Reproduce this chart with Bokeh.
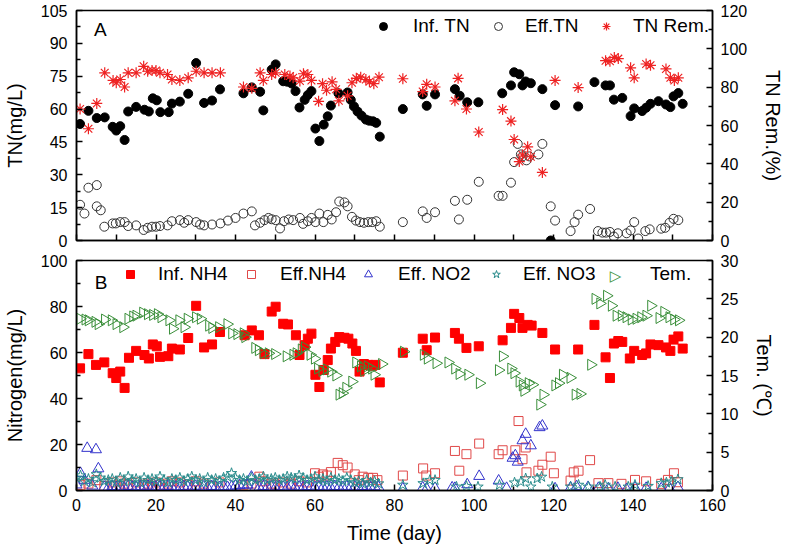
import numpy as np
from bokeh.plotting import figure
from bokeh.models import Range1d, LinearAxis, FixedTicker, Legend, LegendItem, Label
from bokeh.layouts import column
from bokeh.embed import file_html
from bokeh.resources import INLINE

FONT = "Liberation Sans"

# ---------------- Panel A data: (day, value) ----------------
INF_TN = [(0.9,53.2),(3.0,59.2),(5.1,55.9),(7.1,56.2),(9.1,51.9),(10.0,50.2),(11.0,52.2),(12.1,45.9),
          (13.0,58.9),(15.0,61.0),(17.1,59.7),(18.2,58.9),(19.2,64.9),(20.2,64.0),(21.1,58.6),(23.2,58.6),
          (24.0,62.5),(26.0,63.4),(28.1,67.0),(30.1,81.0),(32.1,62.8),(34.1,63.9),(36.1,69.0),(42.0,67.2),
          (44.1,69.9),(46.2,67.9),(47.0,59.4),(49.1,78.0),(50.1,80.4),(52.0,72.7),(53.0,72.5),(54.1,71.7),
          (55.1,68.2),(56.1,60.7),(57.4,64.2),(58.2,66.4),(59.1,68.2),(60.1,51.1),(61.1,45.4),(62.2,52.9),
          (63.2,56.7),(64.0,61.6),(65.9,67.2),(68.2,67.6),(69.0,64.2),(69.8,61.2),(70.7,58.9),(71.7,57.0),
          (72.8,55.2),(73.6,54.7),(74.6,54.4),(75.4,53.7),(76.3,47.4),(82.1,60.0),(87.1,66.7),(88.1,61.5),
          (90.2,66.7),(95.2,69.1),(96.4,66.1),(98.3,63.1),(101.1,63.1),(107.1,67.2),(109.3,70.8),(110.1,76.8),
          (111.4,75.9),(112.2,70.8),(113.0,72.6),(114.3,71.8),(117.2,69.1),(119.3,0.0),(120.4,61.8),(126.2,61.2),
          (130.3,72.3),(133.1,70.8),(134.2,70.8),(135.2,64.3),(137.3,65.1),(139.4,56.8),(140.3,60.3),(142.3,59.1),
          (143.3,60.6),(144.4,62.4),(146.4,63.6),(148.3,62.1),(149.4,60.9),(150.2,65.8),(151.4,67.3),(152.5,62.4)]

EFF_TN = [(0.9,16.3),(2.0,12.3),(3.0,24.1),(5.1,25.3),(5.1,15.6),(6.1,13.8),(7.0,6.3),(9.1,7.8),(9.9,7.8),
          (11.0,8.4),(12.1,8.4),(13.0,6.6),(15.0,6.9),(16.9,4.8),(17.9,5.8),(19.0,6.3),(20.0,6.3),(21.0,6.6),
          (22.9,6.9),(24.0,8.8),(26.0,9.3),(27.1,8.1),(28.1,9.3),(30.1,8.4),(31.1,7.3),(32.1,6.9),(34.1,7.3),
          (36.2,7.8),(38.1,9.1),(40.0,10.3),(42.0,12.3),(44.1,13.3),(44.9,6.9),(46.2,8.1),(47.3,9.3),(48.3,10.3),
          (49.1,9.7),(50.1,9.3),(51.2,5.5),(52.2,8.8),(53.4,9.6),(54.5,9.3),(56.2,10.3),(57.0,7.6),(58.2,8.8),
          (59.1,10.3),(60.1,8.4),(61.1,12.3),(62.1,8.4),(63.2,11.7),(64.2,9.6),(65.3,12.9),(66.1,17.8),(67.4,17.4),
          (68.2,15.6),(69.3,10.8),(70.3,9.1),(71.3,8.4),(72.3,8.1),(73.4,8.4),(74.4,8.4),(75.4,8.8),(76.3,6.3),
          (82.1,8.4),(87.1,13.3),(88.1,10.3),(90.2,12.9),(95.2,18.1),(96.2,9.6),(98.3,18.6),(101.2,26.8),
          (106.2,20.4),(107.2,20.4),(109.3,26.4),(110.1,35.8),(111.0,44.1),(111.8,39.3),(112.2,38.4),(113.2,36.6),
          (113.9,38.4),(116.2,39.3),(117.2,44.1),(119.3,15.6),(120.4,9.1),(124.3,4.3),(125.3,8.4),(126.2,11.8),
          (129.2,14.4),(131.2,4.3),(132.3,3.6),(133.2,3.6),(134.2,3.9),(135.2,1.8),(136.2,3.3),(138.4,3.3),
          (139.4,4.6),(140.3,8.4),(141.3,0.9),(143.1,4.3),(144.2,5.1),(147.1,5.4),(148.1,5.8),(149.2,8.1),
          (150.2,9.9),(151.4,9.3)]

TN_REM = [(0.9,68.6),(3.0,58.3),(5.1,71.5),(7.1,87.5),(9.2,83.5),(10.0,82.3),(11.0,84.0),(12.1,80.1),
          (13.0,87.5),(15.0,87.5),(16.9,90.9),(17.9,88.3),(19.0,88.7),(20.0,88.7),(21.0,87.5),(22.9,86.6),
          (24.0,84.0),(26.0,83.5),(28.1,84.9),(30.1,88.3),(32.1,87.5),(34.1,87.5),(36.2,87.5),(42.0,80.1),
          (44.1,79.4),(46.2,87.5),(47.0,83.5),(49.1,86.6),(50.1,87.5),(52.4,86.6),(53.7,85.8),(54.5,84.9),
          (56.2,83.2),(57.1,87.0),(58.2,86.6),(59.1,83.5),(60.9,72.6),(61.9,81.8),(62.9,78.4),(64.3,82.8),
          (65.3,78.9),(66.0,72.9),(68.2,75.5),(69.3,82.3),(70.4,84.6),(71.5,85.2),(72.8,84.0),(73.7,82.8),
          (74.8,81.8),(76.1,85.2),(82.1,84.4),(87.1,77.7),(88.1,81.5),(90.2,80.1),(95.2,72.9),(96.0,84.6),
          (98.1,68.6),(101.2,56.6),(107.2,68.3),(109.3,62.3),(110.1,52.7),(111.4,41.2),(112.2,44.6),(113.5,48.9),
          (114.3,43.7),(117.2,35.5),(120.4,83.5),(126.2,79.8),(133.1,93.8),(134.2,93.5),(135.3,95.5),(136.3,94.9),
          (139.4,90.1),(140.3,84.9),(143.3,92.1),(144.4,91.4),(148.3,89.5),(149.4,84.9),(150.4,83.5),(151.4,84.9)]

# ---------------- Panel B data: (day, value) ----------------
INF_NH4 = [(0.9,53.1),(3.0,59.3),(4.9,54.6),(7.0,55.7),(9.1,51.0),(10.0,48.9),(11.0,51.7),(12.1,44.6),
           (13.2,57.7),(15.0,60.7),(17.1,58.9),(18.2,57.4),(19.2,63.5),(20.2,62.7),(21.0,58.1),(23.1,58.4),
           (24.0,61.7),(26.0,61.3),(28.1,66.3),(30.1,80.3),(32.1,62.2),(34.1,63.5),(36.1,68.9),(42.3,67.5),
           (44.1,69.6),(45.9,67.5),(47.3,59.3),(49.1,77.8),(50.1,79.9),(52.0,72.5),(53.2,72.2),(55.2,67.5),
           (56.1,58.9),(57.4,63.2),(58.2,66.0),(59.1,68.2),(60.1,50.3),(61.1,45.0),(62.2,52.4),(63.2,56.7),
           (64.0,61.7),(65.1,64.6),(66.1,66.7),(67.4,66.4),(68.4,66.0),(69.4,63.9),(70.3,60.7),(71.2,51.7),
           (72.3,55.0),(73.4,54.6),(74.4,54.2),(75.2,54.6),(76.3,47.0),(82.1,59.9),(87.1,66.0),(88.1,61.0),
           (90.2,66.5),(95.2,68.5),(96.2,66.0),(98.1,62.0),(101.2,62.7),(107.2,65.3),(109.3,70.7),(110.1,76.8),
           (111.4,75.0),(112.2,70.7),(113.5,72.0),(114.5,71.7),(117.2,68.5),(120.4,61.3),(126.2,61.3),(130.3,72.0),
           (133.1,57.9),(134.2,48.9),(135.2,63.9),(136.3,65.0),(137.3,64.6),(139.2,57.4),(140.3,60.7),(142.3,58.9),
           (143.3,59.6),(144.4,63.5),(146.4,63.2),(148.3,62.2),(149.4,60.7),(150.2,65.6),(151.4,67.0),(152.5,61.7)]

EFF_NH4 = [(1,2.5),(3,3.0),(5,4.5),(7,2.0),(9,3.5),(10,2.0),(11,4.0),(12,3.0),(13,2.5),(15,3.5),(17,2.5),
           (18,3.0),(19,2.0),(20,3.5),(21,2.5),(23,3.0),(24,4.0),(26,3.5),(28,2.5),(30,4.0),(32,3.0),(34,2.0),
           (36,3.5),(42,2.5),(44,3.0),(46,6.0),(47,4.0),(49,3.0),(50,2.5),(52,3.5),(54,3.0),(56,4.0),(58,3.5),
           (60,7.5),(61,6.0),(62,7.0),(63,6.5),(64,8.0),(65.7,12.0),(67,11.0),(68.2,10.0),(70,7.0),(71,4.5),
           (72,6.0),(73.4,5.5),(74.6,5.5),(75.7,4.5),
           (82.1,6.5),(87.2,9.6),(88.0,6.5),(90.2,7.5),(95.2,17.2),(96.3,8.6),(98.1,15.8),(101.3,20.4),
           (106.2,15.8),(107.2,17.5),(110.4,17.5),(111.2,30.2),(112.2,13.6),(113.0,18.7),(113.2,7.9),(116.2,8.6),
           (117.2,11.2),(119.3,14.7),(120.1,7.5),(124.3,4.3),(125.1,7.9),(126.3,8.6),(129.2,13.2),(131.3,3.2),
           (133.8,3.2),(137.1,2.9),(140.5,4.6),(143.3,4.0),(147.1,2.9),(148.8,4.6),(150.3,7.5),(151.3,3.6)]

EFF_NO2 = [(0,2.5),(1,7.5),(2,4.5),(2.7,18.4),(4,2.0),(4.9,17.8),(5.5,9.5),(7,1.5),(8,1.2),(9,1.8),(10,1.4),
           (11,1.6),(12,1.2),(13,1.8),(14,1.5),(15,1.3),(16,1.7),(17,1.4),(18,1.9),(19,1.2),(20,1.6),(21,1.5),
           (22,1.3),(23,1.8),(24,1.4),(25,1.6),(26,1.2),(27,1.7),(28,1.5),(29,1.3),(30,1.9),(31,1.4),(32,1.6),
           (33,1.2),(34,1.8),(35,1.5),(36,1.3),(37,1.7),(38,1.4),(39,1.6),(40,2.0),(41,2.2),(42,2.5),(43,2.4),
           (44,5.9),(45,1.5),(46,1.3),(47,1.8),(48,1.4),(49,1.6),(50,1.2),(51,1.7),(52,1.5),(53,1.3),(54,1.9),
           (55,1.4),(56,1.6),(57,1.2),(58,1.8),(59,1.5),(60,1.3),(61,1.7),(62,1.4),(63,1.6),(64,1.2),(65,1.8),
           (66,1.5),(67,1.3),(68,1.7),(69,1.4),(70,1.6),(71,1.2),(72,1.8),(73,1.5),(74,1.3),(75,1.7),(76,1.4),
           (82.1,0.8),(87.1,1.2),(88.1,0.8),(90.2,1.0),(94.5,1.2),(95.2,1.0),(98.3,2.6),(101.3,6.2),(106.2,4.2),
           (108.2,1.0),(109.7,14.1),(110.4,15.2),(111.0,12.4),(112.2,21.7),(113.0,24.5),(114.3,19.5),(116.5,27.4),
           (117.2,28.1),(120.4,0.8),(124.3,1.2),(125.8,1.7),(128.7,1.4),(131.3,1.0),(133.8,0.8),(136.2,1.0),
           (138.4,0.5),(140.5,1.2),(143.3,1.0),(147.1,0.8),(149.2,1.0),(151.3,1.4)]

EFF_NO3 = [(0,5.5),(1,6.5),(2,4.0),(3,5.0),(4,3.5),(5,7.0),(6,5.5),(7,4.0),(8,4.5),(9,5.0),(10,3.5),(11,5.5),
           (12,4.0),(13,6.0),(14,4.5),(15,5.0),(16,3.5),(17,5.5),(18,4.5),(19,5.0),(20,4.0),(21,6.0),(22,4.5),
           (23,3.5),(24,5.0),(25,4.5),(26,5.5),(27,4.0),(28,5.0),(29,6.0),(30,4.5),(31,5.0),(32,3.5),(33,5.5),
           (34,4.5),(35,5.0),(36,4.0),(37,5.5),(38,6.0),(39,7.5),(40,5.5),(41,4.5),(42,5.0),(43,4.0),(44,5.5),
           (45,4.5),(46,5.0),(47,6.0),(48,4.5),(49,5.0),(50,5.5),(51,4.5),(52,5.0),(53,6.0),(54,5.5),(55,5.0),
           (56,6.5),(57,5.5),(58,4.5),(59,5.0),(60,6.0),(61,4.5),(62,5.0),(63,4.0),(64,5.5),(65,4.5),(66,5.0),
           (67,4.0),(68,5.5),(69,4.5),(70,3.5),(71,4.0),(72,3.0),(73,4.5),(74,3.5),(75,4.0),(76,3.0),
           (82.1,2.4),(87.2,3.1),(88.9,4.5),(90.2,4.5),(95.6,1.6),(98.1,1.9),(101.0,1.6),(106.4,2.4),(110.2,3.4),
           (111.8,3.8),(113.0,5.2),(114.3,1.6),(115.9,5.2),(117.0,5.9),(119.7,1.6),(124.3,1.6),(126.3,2.4),
           (128.8,1.6),(131.7,1.6),(133.0,2.4),(135.5,1.6),(138.8,1.6),(140.5,2.4),(143.8,1.9),(147.1,3.1),
           (148.4,3.4),(149.6,3.8),(151.3,4.8)]

TEM = [(0.9,22.4),(2.2,22.3),(3.0,22.2),(4.7,22.0),(5.5,21.7),(7.1,22.3),(8.8,22.2),(10.0,21.7),(11.7,21.3),
       (13.0,22.4),(14.2,22.7),(15.0,22.8),(16.7,23.2),(17.9,23.0),(19.2,22.9),(20.4,23.0),(21.3,22.6),
       (23.3,22.2),(24.2,21.1),(25.8,22.2),(27.1,21.3),(27.9,22.4),(30.0,22.6),(31.2,22.4),(33.3,21.5),
       (34.1,21.2),(35.8,21.3),(37.9,21.7),(39.1,20.5),(40.4,20.4),(42.0,20.5),(42.4,20.0),(44.9,18.6),
       (45.8,18.3),(47.0,17.9),(48.3,17.9),(49.9,17.8),(52.8,17.5),(54.5,17.7),(55.3,17.9),(56.6,18.4),
       (57.4,18.7),(58.8,17.7),(59.9,17.2),(60.7,15.9),(61.8,15.6),(62.9,15.8),(64.0,15.5),(65.3,15.0),
       (66.1,12.5),(66.9,12.7),(67.8,13.4),(69.3,14.2),(70.3,16.7),(71.5,16.2),(72.3,15.6),(73.2,16.2),
       (74.3,15.9),(74.9,15.1),(76.8,16.5),(82.3,18.1),(87.3,17.7),(88.3,17.2),(90.5,16.6),(93.5,16.7),
       (95.2,15.9),(96.3,15.2),(98.5,15.1),(101.4,14.0),(106.2,15.7),(107.2,17.5),(109.3,15.9),(110.1,15.3),
       (111.4,14.2),(112.2,13.7),(112.6,13.0),(113.7,14.0),(114.7,13.8),(116.6,11.2),(117.4,12.5),(120.4,13.7),
       (121.3,14.0),(122.3,15.1),(124.2,14.7),(125.5,12.5),(126.7,12.6),(129.4,16.4),(130.5,25.0),(131.7,24.4),
       (133.4,25.4),(134.6,24.1),(135.8,22.8),(137.1,22.8),(138.3,22.6),(139.6,22.3),(140.8,22.4),(142.0,22.6),
       (143.3,22.8),(144.5,24.1),(146.6,22.5),(147.8,23.3),(149.1,22.6),(150.3,22.3),(151.5,22.2)]

A_LEFT_TICKS = [0, 15, 30, 45, 60, 75, 90, 105]
A_RIGHT_TICKS = [0, 20, 40, 60, 80, 100, 120]
B_LEFT_TICKS = [0, 20, 40, 60, 80, 100]
B_RIGHT_TICKS = [0, 5, 10, 15, 20, 25, 30]
X_TICKS = [0, 20, 40, 60, 80, 100, 120, 140, 160]
A_X_MINOR = [0, 10, 20, 30, 40, 50, 60, 70, 80, 90, 100, 110, 120, 130, 140, 150, 160]

W = 787
BL, BR = 73, 72
DAY_PX = (W - BL - BR) / 160.0  # frame px per day (legend symbol placement)


def xy(pairs):
    return [p[0] for p in pairs], [p[1] for p in pairs]


def mid(ticks):
    return [(a + b) / 2 for a, b in zip(ticks[:-1], ticks[1:])]


def style_axis(ax, ticks, label_standoff=9, title_standoff=12):
    ax.ticker = FixedTicker(ticks=ticks, minor_ticks=mid(ticks))
    ax.major_tick_in = 6
    ax.major_tick_out = 0
    ax.minor_tick_in = 4
    ax.minor_tick_out = 0
    ax.axis_line_color = "black"
    ax.axis_line_width = 1.5
    ax.major_tick_line_width = 1.5
    ax.minor_tick_line_width = 1.5
    ax.major_tick_line_color = "black"
    ax.minor_tick_line_color = "black"
    ax.major_label_text_font = FONT
    ax.major_label_text_font_size = "16px"
    ax.major_label_text_color = "black"
    ax.major_label_standoff = label_standoff
    ax.axis_label_text_font = FONT
    ax.axis_label_text_font_size = "20px"
    ax.axis_label_text_font_style = "normal"
    ax.axis_label_text_color = "black"
    ax.axis_label_standoff = title_standoff


def base_fig(height, top, bottom, yr):
    p = figure(width=W, height=height, x_range=Range1d(0, 160), y_range=yr,
               output_backend="svg", toolbar_location=None,
               min_border_left=BL, min_border_right=BR,
               min_border_top=top, min_border_bottom=bottom)
    p.outline_line_color = "black"
    p.outline_line_width = 1.5
    p.xgrid.visible = False
    p.ygrid.visible = False
    p.background_fill_color = "white"
    p.border_fill_color = "white"
    return p


def add_legend(p, label, r, x, y, standoff=18):
    leg = Legend(items=[LegendItem(label=label, renderers=[r])], location=(x, y),
                 orientation="horizontal", border_line_alpha=0, background_fill_alpha=0,
                 padding=0, margin=0, spacing=0, label_standoff=standoff, glyph_width=20,
                 glyph_height=20, label_height=20, label_text_font=FONT,
                 label_text_font_size="19px", label_text_color="black")
    p.add_layout(leg)


# ---------------- Panel A ----------------
A_FRAME_H = 230
pA = base_fig(250, 10, 10, Range1d(0, 105))
pA.extra_y_ranges = {"rem": Range1d(0, 120)}
xa = pA.xaxis[0]
style_axis(xa, [])
xa.ticker = FixedTicker(ticks=[], minor_ticks=A_X_MINOR)
xa.minor_tick_in = 6
xa.major_label_standoff = 0
xa.axis_label_standoff = 0
style_axis(pA.yaxis[0], A_LEFT_TICKS)
pA.yaxis[0].axis_label = "TN(mg/L)"
axA = LinearAxis(y_range_name="rem", axis_label="TN Rem.(%)")
style_axis(axA, A_RIGHT_TICKS, label_standoff=8, title_standoff=12)
pA.add_layout(axA, "right")

x, y = xy(INF_TN)
rA1 = pA.scatter(x, y, marker="circle", size=9, fill_color="black", line_color="black")
x, y = xy(EFF_TN)
rA2 = pA.scatter(x, y, marker="circle", size=9, fill_color=None, line_color="#333333", line_width=1)
x, y = xy(TN_REM)
rA3 = pA.scatter(x, y, marker="asterisk", size=11, line_color="#EE2222", line_width=1.2, y_range_name="rem")

LEG_A_Y = 203
add_legend(pA, "Inf. TN", rA1, 297, LEG_A_Y, 20)
add_legend(pA, "Eff.TN", rA2, 412, LEG_A_Y, 17)
add_legend(pA, "TN Rem.", rA3, 520, LEG_A_Y, 17)
pA.add_layout(Label(x=6, y=96.3, text="A", text_font=FONT, text_font_size="19px",
                    text_align="center", text_baseline="middle", text_color="black"))

# ---------------- Panel B ----------------
B_FRAME_H = 230
pB = base_fig(299, 10, 59, Range1d(0, 100))
pB.extra_y_ranges = {"tem": Range1d(0, 30)}
style_axis(pB.xaxis[0], X_TICKS, label_standoff=8, title_standoff=8)
pB.xaxis[0].axis_label = "Time (day)"
style_axis(pB.yaxis[0], B_LEFT_TICKS)
pB.yaxis[0].axis_label = "Nitrogen(mg/L)"
axB = LinearAxis(y_range_name="tem", axis_label="Tem. (℃)")
style_axis(axB, B_RIGHT_TICKS, label_standoff=8, title_standoff=12)
pB.add_layout(axB, "right")

x, y = xy(INF_NH4)
rB1 = pB.scatter(x, y, marker="square", size=9, fill_color="#FF0000", line_color="#FF0000")
x, y = xy(EFF_NH4)
rB2 = pB.scatter(x, y, marker="square", size=9, fill_color=None, line_color="#E04848", line_width=1)
x, y = xy(EFF_NO2)
rB3 = pB.scatter(x, y, marker="triangle", size=11, fill_color=None, line_color="#3333CC", line_width=1)
x, y = xy(EFF_NO3)
rB4 = pB.scatter(x, y, marker="star", size=11, fill_color=None, line_color="#2A8C8C", line_width=1)
x, y = xy(TEM)
rB5 = pB.scatter(x, y, marker="triangle", angle=-np.pi / 2, size=11, fill_color=None,
                 line_color="#3A8F3A", line_width=1, y_range_name="tem")
# legend swatch for Tem. (legend glyphs ignore marker rotation) -> invisible swatch + text symbol
rB5_key = pB.scatter([], [], marker="circle", size=1, fill_alpha=0, line_alpha=0)

LEG_B_Y = 205
add_legend(pB, "Inf. NH4", rB1, 44, LEG_B_Y, 18)
add_legend(pB, "Eff.NH4", rB2, 165, LEG_B_Y, 19)
add_legend(pB, "Eff. NO2", rB3, 282, LEG_B_Y, 20)
add_legend(pB, "Eff. NO3", rB4, 410, LEG_B_Y, 17)
add_legend(pB, "Tem.", rB5_key, 534, LEG_B_Y, 20)
pB.add_layout(Label(x=(534 + 10) / DAY_PX, y=(LEG_B_Y + 10) / B_FRAME_H * 100, text="▷",
                    text_font="DejaVu Sans", text_font_size="15px", text_color="#3A8F3A",
                    text_align="center", text_baseline="middle"))
pB.add_layout(Label(x=6.2, y=90.4, text="B", text_font=FONT, text_font_size="19px",
                    text_align="center", text_baseline="middle", text_color="black"))

layout = column(pA, pB, spacing=0)
open("out.html", "w").write(file_html(layout, INLINE))
